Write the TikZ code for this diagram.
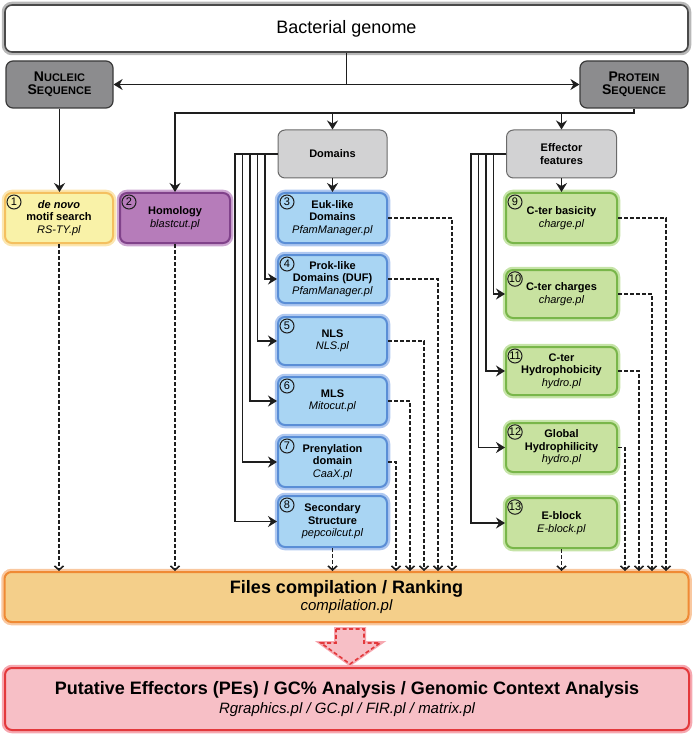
\documentclass[tikz,border=0pt]{standalone}
\usepackage{fontspec}
\setmainfont{Liberation Sans}
\usetikzlibrary{arrows.meta,calc}
\definecolor{linec}{HTML}{1E1E1E}
\definecolor{gbord}{HTML}{4A4A4A}
\definecolor{ghalo}{HTML}{B8B8B8}
\definecolor{seqfill}{HTML}{8C8C8E}
\definecolor{seqbord}{HTML}{3A3A3A}
\definecolor{lgfill}{HTML}{D2D2D3}
\definecolor{lgbord}{HTML}{6A6A6A}
\definecolor{yfill}{HTML}{F9F2A8}
\definecolor{ybord}{HTML}{F4C060}
\definecolor{yhalo}{HTML}{FBE6B0}
\definecolor{pfill}{HTML}{B67CBA}
\definecolor{pbord}{HTML}{80428A}
\definecolor{phalo}{HTML}{CDA6D2}
\definecolor{bfill}{HTML}{A9D5F3}
\definecolor{bbord}{HTML}{5A8ED6}
\definecolor{bhalo}{HTML}{AFC8F0}
\definecolor{gfill}{HTML}{C8E2A0}
\definecolor{gbordg}{HTML}{79B64A}
\definecolor{ghalog}{HTML}{C6E4A8}
\definecolor{ffill}{HTML}{F4CF8A}
\definecolor{fbord}{HTML}{EF8A34}
\definecolor{fhalo}{HTML}{F9C8A0}
\definecolor{pefill}{HTML}{F7BFC6}
\definecolor{pebord}{HTML}{E3393C}
\definecolor{pehalo}{HTML}{F6A8B0}
\tikzset{
  plain/.style={draw=linec, line width=1.9pt},
  conn/.style={draw=linec, line width=1.9pt, -{Stealth[length=9pt,width=11pt,inset=3pt]}},
  dconn/.style={draw=linec, line width=1.4pt, dash pattern=on 4pt off 2pt, -{Straight Barb[length=4pt,width=9pt,line width=1.6pt]}},
  box/.style={rounded corners=7pt, line width=2pt, inner sep=1pt, align=center, font=\fontsize{11}{12.5}\selectfont},
  halo/.style={preaction={draw=#1, line width=6.5pt}},
  genomebox/.style={box, fill=white, draw=gbord, halo=ghalo, line width=1.6pt},
  seqbox/.style={box, fill=seqfill, draw=seqbord, line width=1.2pt, minimum width=107pt, minimum height=47pt},
  catbox/.style={box, fill=lgfill, draw=lgbord, line width=1pt, minimum height=48pt, font=\fontsize{11}{12.5}\selectfont\bfseries},
  ybox/.style={box, fill=yfill, draw=ybord, halo=yhalo, minimum width=108pt, minimum height=50pt},
  pbox/.style={box, fill=pfill, draw=pbord, halo=phalo, minimum width=110pt, minimum height=50pt},
  bluebox/.style={box, fill=bfill, draw=bbord, halo=bhalo, minimum width=109pt},
  greenbox/.style={box, fill=gfill, draw=gbordg, halo=ghalog, minimum width=111pt},
  filesbox/.style={box, fill=ffill, draw=fbord, halo=fhalo, minimum width=684pt, minimum height=50pt},
  pebox/.style={box, fill=pefill, draw=pebord, halo=pehalo, minimum width=684pt, minimum height=62pt},
  numc/.style={circle, draw=linec, line width=1pt, minimum size=14pt, inner sep=0pt, font=\fontsize{11}{11}\selectfont}
}
\newcommand{\bigS}[2]{{\fontsize{14}{14}\selectfont\bfseries #1}{\fontsize{11}{11}\selectfont\bfseries #2}}
\begin{document}
\begin{tikzpicture}[x=1pt,y=-1pt]
\useasboundingbox (0,0) rectangle (693,735);

% top boxes
\node[genomebox, minimum width=683pt, minimum height=47pt, font=\fontsize{18}{20}\selectfont] (genome) at (346.5,28.5) {Bacterial genome};
\node[seqbox] (nucleic) at (59.5,84.5) {\bigS{N}{UCLEIC}\\[1pt]\bigS{S}{EQUENCE}};
\node[seqbox, minimum width=108pt] (protein) at (634,84.5) {\bigS{P}{ROTEIN}\\[1pt]\bigS{S}{EQUENCE}};

\node[catbox, minimum width=109pt] (domains) at (332.5,154) {Domains};
\node[catbox, minimum width=110pt] (effector) at (561.5,154) {Effector\\features};

% tool boxes
\node[ybox] (b1) at (59,218) {\textbf{\textit{de novo}}\\\textbf{motif search}\\\textit{RS-TY.pl}};
\node[pbox] (b2) at (175,218) {\textbf{Homology}\\\textit{blastcut.pl}};
\node[bluebox, minimum height=50pt] (b3) at (332.5,218) {\textbf{Euk-like}\\\textbf{Domains}\\\textit{PfamManager.pl}};
\node[bluebox, minimum height=48pt] (b4) at (332.5,279) {\textbf{Prok-like}\\\textbf{Domains (DUF)}\\\textit{PfamManager.pl}};
\node[bluebox, minimum height=48pt] (b5) at (332.5,341) {\textbf{NLS}\\\textit{NLS.pl}};
\node[bluebox, minimum height=48pt] (b6) at (332.5,401) {\textbf{MLS}\\\textit{Mitocut.pl}};
\node[bluebox, minimum height=50pt] (b7) at (332.5,462) {\textbf{Prenylation}\\\textbf{domain}\\\textit{CaaX.pl}};
\node[bluebox, minimum height=51pt] (b8) at (332.5,521.5) {\textbf{Secondary}\\\textbf{Structure}\\\textit{pepcoilcut.pl}};

\node[greenbox, minimum height=50pt] (b9) at (561.5,218) {\textbf{C-ter basicity}\\\textit{charge.pl}};
\node[greenbox, minimum height=48pt] (b10) at (561.5,294) {\textbf{C-ter charges}\\\textit{charge.pl}};
\node[greenbox, minimum height=48pt] (b11) at (561.5,371) {\textbf{C-ter}\\\textbf{Hydrophobicity}\\\textit{hydro.pl}};
\node[greenbox, minimum height=49pt] (b12) at (561.5,447.5) {\textbf{Global}\\\textbf{Hydrophilicity}\\\textit{hydro.pl}};
\node[greenbox, minimum height=50pt] (b13) at (561.5,523) {\textbf{E-block}\\\textit{E-block.pl}};

% number circles
\foreach \b/\n in {b1/1,b2/2,b3/3,b4/4,b5/5,b6/6,b7/7,b8/8,b9/9,b10/10,b11/11,b12/12,b13/13}{
  \node[numc] (n\n) at ($(\b.north west)+(10,10)$) {\n};
}

% bottom boxes
\node[filesbox] (files) at (346.5,597) {{\fontsize{18}{20}\selectfont\bfseries Files compilation / Ranking}\\[2pt]{\fontsize{15}{17}\selectfont\itshape compilation.pl}};
\node[pebox] (pe) at (347,699) {{\fontsize{18}{20}\selectfont\bfseries Putative Effectors (PEs) / GC\% Analysis / Genomic Context Analysis}\\[3pt]{\fontsize{15}{17}\selectfont\itshape Rgraphics.pl / GC.pl / FIR.pl / matrix.pl}};

% big dashed arrow
\draw[draw=pehalo, line width=4pt, fill=pefill]
  (336,629) -- (364,629) -- (364,643) -- (380,643) -- (350,664) -- (321,643) -- (336,643) -- cycle;
\draw[draw=pebord, line width=1.6pt, dash pattern=on 4pt off 2.5pt, fill=pefill]
  (336,629) -- (364,629) -- (364,643) -- (380,643) -- (350,664) -- (321,643) -- (336,643) -- cycle;

% genome split
\coordinate (split) at (genome.south |- nucleic.east);
\draw[plain] (genome.south) -- (split);
\draw[conn] (split) -- (nucleic.east);
\draw[conn] (split) -- (protein.west);

\draw[conn] (nucleic.south) -- (nucleic.south |- b1.north);

% protein bus
\coordinate (pbus) at ($(protein.south)+(0,4)$);
\draw[conn] (protein.south) -- (pbus) -| (b2.north);
\draw[conn] (pbus -| domains.north) -- (domains.north);
\draw[conn] (pbus -| effector.north) -- (effector.north);

\draw[conn] (domains.south) -- (b3.north);
\draw[conn] (effector.south) -- (b9.north);

% domain branches
\coordinate (d4) at (265,154);
\coordinate (d5) at (257.5,154);
\coordinate (d6) at (250,154);
\coordinate (d7) at (242.5,154);
\coordinate (d8) at (235,154);
\foreach \i in {4,5,6,7,8}{
  \draw[conn] (domains.west) -- (d\i) |- (b\i.west);
}

% effector branches
\coordinate (e10) at (493.5,154);
\coordinate (e11) at (486,154);
\coordinate (e12) at (478.5,154);
\coordinate (e13) at (471,154);
\foreach \i in {10,11,12,13}{
  \draw[conn] (effector.west) -- (e\i) |- (b\i.west);
}

% dashed to files
\draw[dconn] (b1.south) -- (b1.south |- files.north);
\draw[dconn] (b2.south) -- (b2.south |- files.north);
\draw[dconn] (b8.south) -- (b8.south |- files.north);
\draw[dconn] (b13.south) -- (b13.south |- files.north);

\coordinate (x3) at (452,218);
\coordinate (x4) at (438,279);
\coordinate (x5) at (424,341);
\coordinate (x6) at (410,401);
\coordinate (x7) at (396,462);
\coordinate (x9) at (666,218);
\coordinate (x10) at (652,294);
\coordinate (x11) at (639,371);
\coordinate (x12) at (625,447.5);
\foreach \i in {3,4,5,6,7,9,10,11,12}{
  \draw[dconn] (b\i.east) -- (x\i) -- (x\i |- files.north);
}
\end{tikzpicture}
\end{document}
